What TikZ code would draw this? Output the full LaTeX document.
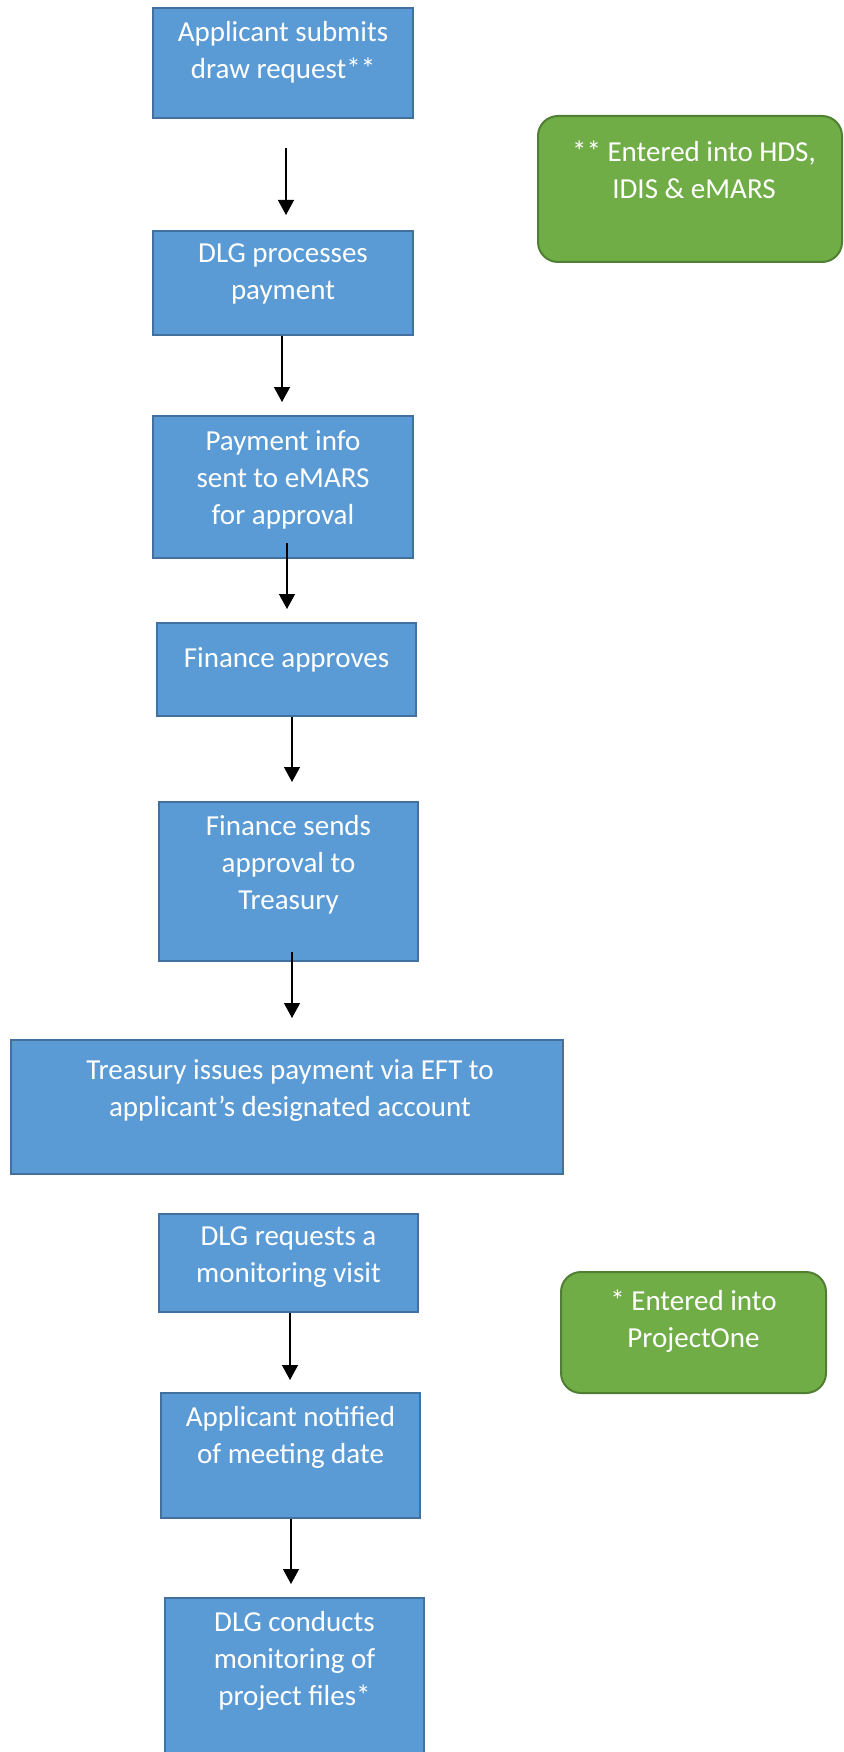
\documentclass[tikz,border=0pt]{standalone}
\usepackage{fontspec}
\setmainfont{Carlito}
\usetikzlibrary{calc,arrows.meta}
\definecolor{boxblue}{HTML}{5B9BD5}
\definecolor{boxblueline}{HTML}{41719C}
\definecolor{notegreen}{HTML}{70AD47}
\definecolor{notegreenline}{HTML}{507E32}

\begin{document}
\begin{tikzpicture}[x=1pt,y=-1pt,
  stepbox/.style={draw=boxblueline,fill=boxblue,line width=2pt,rectangle,inner sep=0pt},
  notebox/.style={draw=notegreenline,fill=notegreen,line width=2pt,rounded corners=20pt,inner sep=0pt},
  boxtext/.style={text=white,font=\fontsize{29}{37}\selectfont,align=center,anchor=north,inner sep=0pt,execute at begin node=\strut},
  flow/.style={line width=1.3pt,-{Triangle[width=16pt,length=15pt]}}]
\useasboundingbox (0,0) rectangle (843,1752);
\node[stepbox,minimum width=260pt,minimum height=110pt] (b1) at (283,63) {};
\node[stepbox,minimum width=260pt,minimum height=104pt] (b2) at (283,283) {};
\node[stepbox,minimum width=260pt,minimum height=142pt] (b3) at (283,487) {};
\node[stepbox,minimum width=259pt,minimum height=93pt] (b4) at (286.5,669.5) {};
\node[stepbox,minimum width=259pt,minimum height=159pt] (b5) at (288.5,881.5) {};
\node[stepbox,minimum width=552pt,minimum height=134pt] (b6) at (287,1107) {};
\node[stepbox,minimum width=259pt,minimum height=98pt] (b7) at (288.5,1263) {};
\node[stepbox,minimum width=259pt,minimum height=125pt] (b8) at (290.5,1455.5) {};
\node[stepbox,minimum width=259pt,minimum height=170pt] (b9) at (294.5,1683) {};
\node[notebox,minimum width=304pt,minimum height=146pt] (g1) at (690,189) {};
\node[notebox,minimum width=265pt,minimum height=121pt] (g2) at (693.5,1332.5) {};

\node[boxtext] (t1) at ([yshift=-14pt]b1.north) {Applicant submits\\draw request**};
\node[boxtext] (t2) at ([yshift=-13pt]b2.north) {DLG processes\\payment};
\node[boxtext] (t3) at ([yshift=-15pt]b3.north) {Payment info\\sent to eMARS\\for approval};
\node[boxtext] (t4) at ([yshift=-19pt]b4.north) {Finance approves};
\node[boxtext] (t5) at ([yshift=-14pt]b5.north) {Finance sends\\approval to\\Treasury};
\node[boxtext] (t6) at ([xshift=3pt,yshift=-20pt]b6.north) {Treasury issues payment via EFT to\\applicant’s designated account};
\node[boxtext] (t7) at ([yshift=-13pt]b7.north) {DLG requests a\\monitoring visit};
\node[boxtext] (t8) at ([yshift=-14pt]b8.north) {Applicant notified\\of meeting date};
\node[boxtext] (t9) at ([yshift=-14pt]b9.north) {DLG conducts\\monitoring of\\project files*};
\node[boxtext] (n1) at ([xshift=4pt,yshift=-26pt]g1.north) {** Entered into HDS,\\IDIS \& eMARS};
\node[boxtext] (n2) at ([yshift=-19pt]g2.north) {* Entered into\\ProjectOne};

\draw[flow] ([xshift=3pt,yshift=-29pt]b1.south) -- ([xshift=3pt,yshift=15pt]b2.north);
\draw[flow] ([xshift=-1pt]b2.south) -- ([xshift=-1pt,yshift=13pt]b3.north);
\draw[flow] ([xshift=4pt,yshift=16pt]b3.south) -- ([xshift=.5pt,yshift=13pt]b4.north);
\draw[flow] ([xshift=5.5pt]b4.south) -- ([xshift=3.5pt,yshift=19pt]b5.north);
\draw[flow] ([xshift=3.5pt,yshift=10pt]b5.south) -- ([xshift=5pt,yshift=21pt]b6.north);
\draw[flow] ([xshift=1.5pt]b7.south) -- ([xshift=-.5pt,yshift=12pt]b8.north);
\draw[flow] ([xshift=.5pt]b8.south) -- ([xshift=-3.5pt,yshift=13pt]b9.north);
\end{tikzpicture}
\end{document}
